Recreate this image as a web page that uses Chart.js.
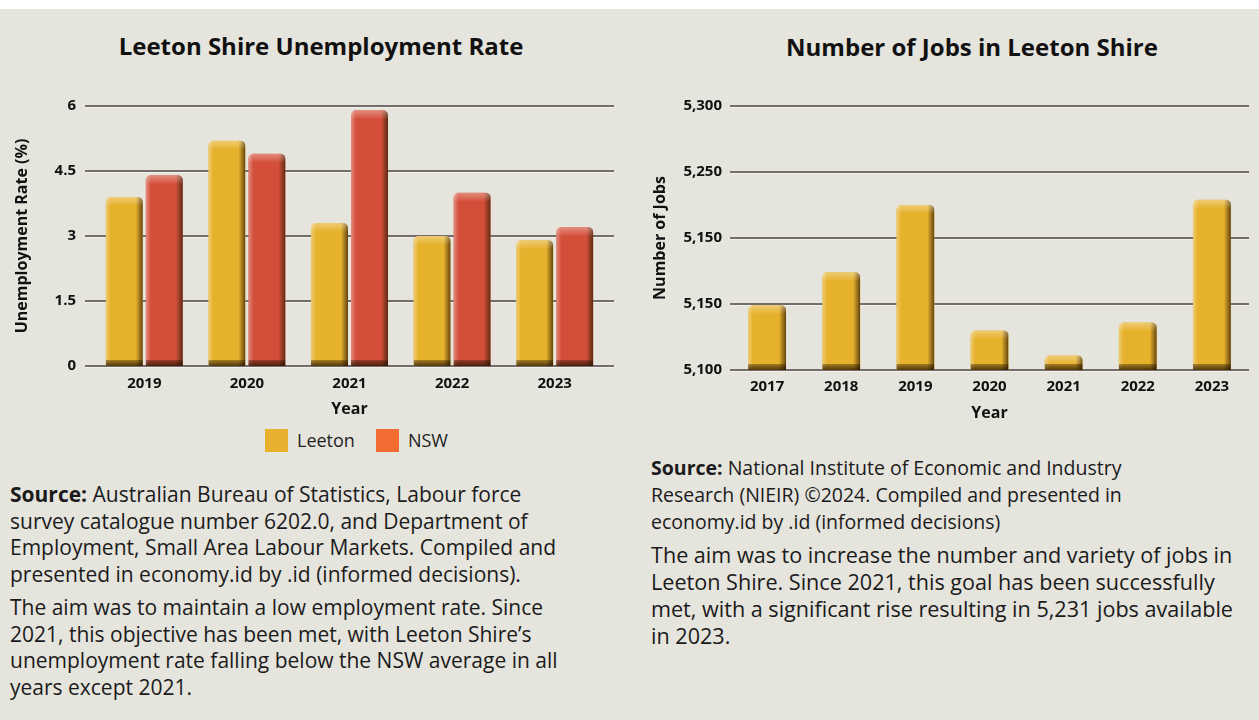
<!DOCTYPE html>
<html>
<head>
<meta charset="utf-8">
<script src="https://cdn.jsdelivr.net/npm/chart.js@4.4.1/dist/chart.umd.min.js"></script>
<style>
  html, body { margin: 0; padding: 0; }
  body { width: 1259px; height: 720px; background: #e5e4dd; position: relative; overflow: hidden;
         font-family: "Open Sans", "Noto Sans", sans-serif; color: #1b1b1b; }
  .topstrip { position: absolute; left: 0; top: 0; width: 1259px; height: 9px; background: #ffffff; }
  .title { position: absolute; font-weight: 700; font-size: 24px; color: #111; white-space: nowrap;
           transform: translateX(-50%); line-height: 28px; }
  .wrap { position: absolute; }
  .legend { position: absolute; left: 265px; top: 429px; display: flex; align-items: center; font-size: 18px; color: #222; line-height: 23px; }
  .legend .item { display: flex; align-items: center; margin-right: 21px; }
  .legend .box { width: 23px; height: 23px; margin-right: 9px; }
  .text { position: absolute; white-space: nowrap; color: #1b1b1b; }
  .text p { margin: 0 0 6px 0; }
  .text b { font-weight: 700; }
</style>
</head>
<body>
<div class="topstrip"></div>

<div class="title" style="left:321px; top:32px;">Leeton Shire Unemployment Rate</div>
<div class="title" style="left:972px; top:33px;">Number of Jobs in Leeton Shire</div>

<div class="wrap" style="left:0px; top:60px; width:640px; height:364px;"><canvas id="c1" width="640" height="364"></canvas></div>
<div class="wrap" style="left:640px; top:60px; width:619px; height:371px;"><canvas id="c2" width="619" height="371"></canvas></div>

<div class="legend" id="legend1"></div>

<div class="text" style="left:10px; top:481px; font-size:21px; line-height:26.7px;">
  <p><b>Source:</b> Australian Bureau of Statistics, Labour force<br>survey catalogue number 6202.0, and Department of<br>Employment, Small Area Labour Markets. Compiled and<br>presented in economy.id by .id (informed decisions).</p>
  <p>The aim was to maintain a low employment rate. Since<br>2021, this objective has been met, with Leeton Shire’s<br>unemployment rate falling below the NSW average in all<br>years except 2021.</p>
</div>

<div class="text" style="left:651px; top:454px; line-height:27px;">
  <p style="font-size:19.5px;"><b>Source:</b> National Institute of Economic and Industry<br>Research (NIEIR) ©2024. Compiled and presented in<br>economy.id by .id (informed decisions)</p>
  <p style="font-size:21.6px;">The aim was to increase the number and variety of jobs in<br>Leeton Shire. Since 2021, this goal has been successfully<br>met, with a significant rise resulting in 5,231 jobs available<br>in 2023.</p>
</div>

<script>
// ---------- DATA ----------
const unempYears = ['2019', '2020', '2021', '2022', '2023'];
const leetonRate = [3.9, 5.2, 3.3, 3.0, 2.9];
const nswRate = [4.4, 4.9, 5.9, 4.0, 3.2];
const unempTickLabels = ['0', '1.5', '3', '4.5', '6'];
const seriesNames = ['Leeton', 'NSW'];

const jobYears = ['2017', '2018', '2019', '2020', '2021', '2022', '2023'];
const jobCounts = [5149, 5174, 5225, 5130, 5111, 5136, 5229];
const jobTickLabels = ['5,100', '5,150', '5,150', '5,250', '5,300'];

// ---------- STYLE ----------
const barColors = ['#e6b12b', '#d44f3a'];
const legendColors = ['#e8b02c', '#f26b30'];
const FONT = '"Open Sans", "Noto Sans", sans-serif';
const tickFont = { family: FONT, size: 15, weight: 'bold', lineHeight: 1.0 };
const titleFont = { family: FONT, size: 16, weight: 'bold', lineHeight: 1.0 };

// legend (HTML)
const lg = document.getElementById('legend1');
seriesNames.forEach((n, i) => {
  const it = document.createElement('div'); it.className = 'item';
  const b = document.createElement('div'); b.className = 'box'; b.style.background = legendColors[i];
  const t = document.createElement('span'); t.textContent = n;
  it.appendChild(b); it.appendChild(t); lg.appendChild(it);
});

// gridlines drawn through the y scale, slightly extended beyond the chart area
const gridPlugin = {
  id: 'extGrid',
  beforeDatasetsDraw(chart, args, opts) {
    const ctx = chart.ctx, ys = chart.scales.y, a = chart.chartArea;
    const ext = opts.ext || 0;
    ctx.save();
    ys.ticks.forEach(t => {
      const y = Math.round(ys.getPixelForValue(t.value));
      ctx.beginPath();
      ctx.strokeStyle = '#746d69';
      ctx.lineWidth = 2;
      ctx.moveTo(a.left - ext, y); ctx.lineTo(a.right + ext, y);
      ctx.stroke();
      ctx.beginPath();
      ctx.strokeStyle = 'rgba(255,255,255,0.45)';
      ctx.lineWidth = 1;
      ctx.moveTo(a.left - ext, y + 1.5); ctx.lineTo(a.right + ext, y + 1.5);
      ctx.stroke();
    });
    ctx.restore();
  }
};

// 3D-ish shading on top of each bar element
const shadePlugin = {
  id: 'barShade',
  afterDatasetsDraw(chart) {
    const ctx = chart.ctx, area = chart.chartArea;
    chart.data.datasets.forEach((ds, di) => {
      const meta = chart.getDatasetMeta(di);
      meta.data.forEach(el => {
        const p = el.getProps(['x', 'y', 'base', 'width'], true);
        const l = p.x - p.width / 2, r = p.x + p.width / 2;
        const top = Math.max(p.y, area.top), bot = Math.min(p.base, area.bottom);
        const h = bot - top;
        if (h <= 0) return;
        ctx.save();
        ctx.beginPath();
        ctx.roundRect(l, top, p.width, h, [5, 5, 0, 0]);
        ctx.clip();
        let g = ctx.createLinearGradient(r - 7, 0, r, 0);
        g.addColorStop(0, 'rgba(60,35,5,0)');
        g.addColorStop(1, 'rgba(50,30,5,0.75)');
        ctx.fillStyle = g; ctx.fillRect(r - 7, top, 7, h);
        g = ctx.createLinearGradient(l, 0, l + 5, 0);
        g.addColorStop(0, 'rgba(255,255,255,0.35)');
        g.addColorStop(1, 'rgba(255,255,255,0)');
        ctx.fillStyle = g; ctx.fillRect(l, top, 5, h);
        g = ctx.createLinearGradient(0, top, 0, top + 9);
        g.addColorStop(0, 'rgba(255,255,255,0.35)');
        g.addColorStop(1, 'rgba(255,255,255,0)');
        ctx.fillStyle = g; ctx.fillRect(l, top, p.width, Math.min(9, h));
        const bh = Math.min(6, h);
        g = ctx.createLinearGradient(0, bot - bh, 0, bot);
        g.addColorStop(0, 'rgba(40,20,0,0.35)');
        g.addColorStop(1, 'rgba(30,15,0,0.75)');
        ctx.fillStyle = g; ctx.fillRect(l, bot - bh, p.width, bh);
        ctx.restore();
      });
    });
  }
};

function yAxis(min, max, step, labels, width, pad, titleText) {
  return {
    min: min, max: max,
    afterFit: s => { s.width = width; },
    afterBuildTicks: s => {
      const arr = [];
      for (let v = min; v <= max + 1e-9; v += step) arr.push({ value: +v.toFixed(4) });
      s.ticks = arr;
    },
    ticks: {
      stepSize: step, padding: pad, color: '#111', font: tickFont,
      callback: (v, i) => labels[i]
    },
    grid: { display: false, drawTicks: false },
    border: { display: false },
    title: { display: true, text: titleText, color: '#111', font: titleFont, padding: 0 }
  };
}

// ---------- CHART 1 ----------
new Chart(document.getElementById('c1'), {
  type: 'bar',
  data: {
    labels: unempYears,
    datasets: [
      { label: seriesNames[0], data: leetonRate, backgroundColor: barColors[0] },
      { label: seriesNames[1], data: nswRate, backgroundColor: barColors[1] }
    ]
  },
  options: {
    responsive: false, animation: false,
    layout: { padding: { left: 14, right: 34, top: 46, bottom: 7 } },
    datasets: { bar: { barPercentage: 0.925, categoryPercentage: 0.78, borderRadius: 5, borderSkipped: 'bottom' } },
    plugins: { legend: { display: false }, tooltip: { enabled: false }, extGrid: { ext: 8 } },
    scales: {
      x: {
        ticks: { padding: 10, color: '#111', font: tickFont },
        grid: { display: false, drawTicks: false },
        border: { display: false },
        title: { display: true, text: 'Year', color: '#111', font: titleFont, padding: { top: 0, bottom: 0 } }
      },
      y: yAxis(0, 6, 1.5, unempTickLabels, 79, 17, 'Unemployment Rate (%)')
    }
  },
  plugins: [gridPlugin, shadePlugin]
});

// ---------- CHART 2 ----------
new Chart(document.getElementById('c2'), {
  type: 'bar',
  data: {
    labels: jobYears,
    datasets: [
      { label: 'Jobs', data: jobCounts, backgroundColor: barColors[0] }
    ]
  },
  options: {
    responsive: false, animation: false,
    layout: { padding: { left: 12, right: 10, top: 46, bottom: 10 } },
    datasets: { bar: { barPercentage: 0.512, categoryPercentage: 1, borderRadius: 5, borderSkipped: 'bottom' } },
    plugins: { legend: { display: false }, tooltip: { enabled: false }, extGrid: { ext: 0 } },
    scales: {
      x: {
        ticks: { padding: 9.5, color: '#111', font: tickFont },
        grid: { display: false, drawTicks: false },
        border: { display: false },
        title: { display: true, text: 'Year', color: '#111', font: titleFont, padding: { top: 1, bottom: 0 } }
      },
      y: yAxis(5100, 5300, 50, jobTickLabels, 78, 8, 'Number of Jobs')
    }
  },
  plugins: [gridPlugin, shadePlugin]
});
</script>
</body>
</html>
